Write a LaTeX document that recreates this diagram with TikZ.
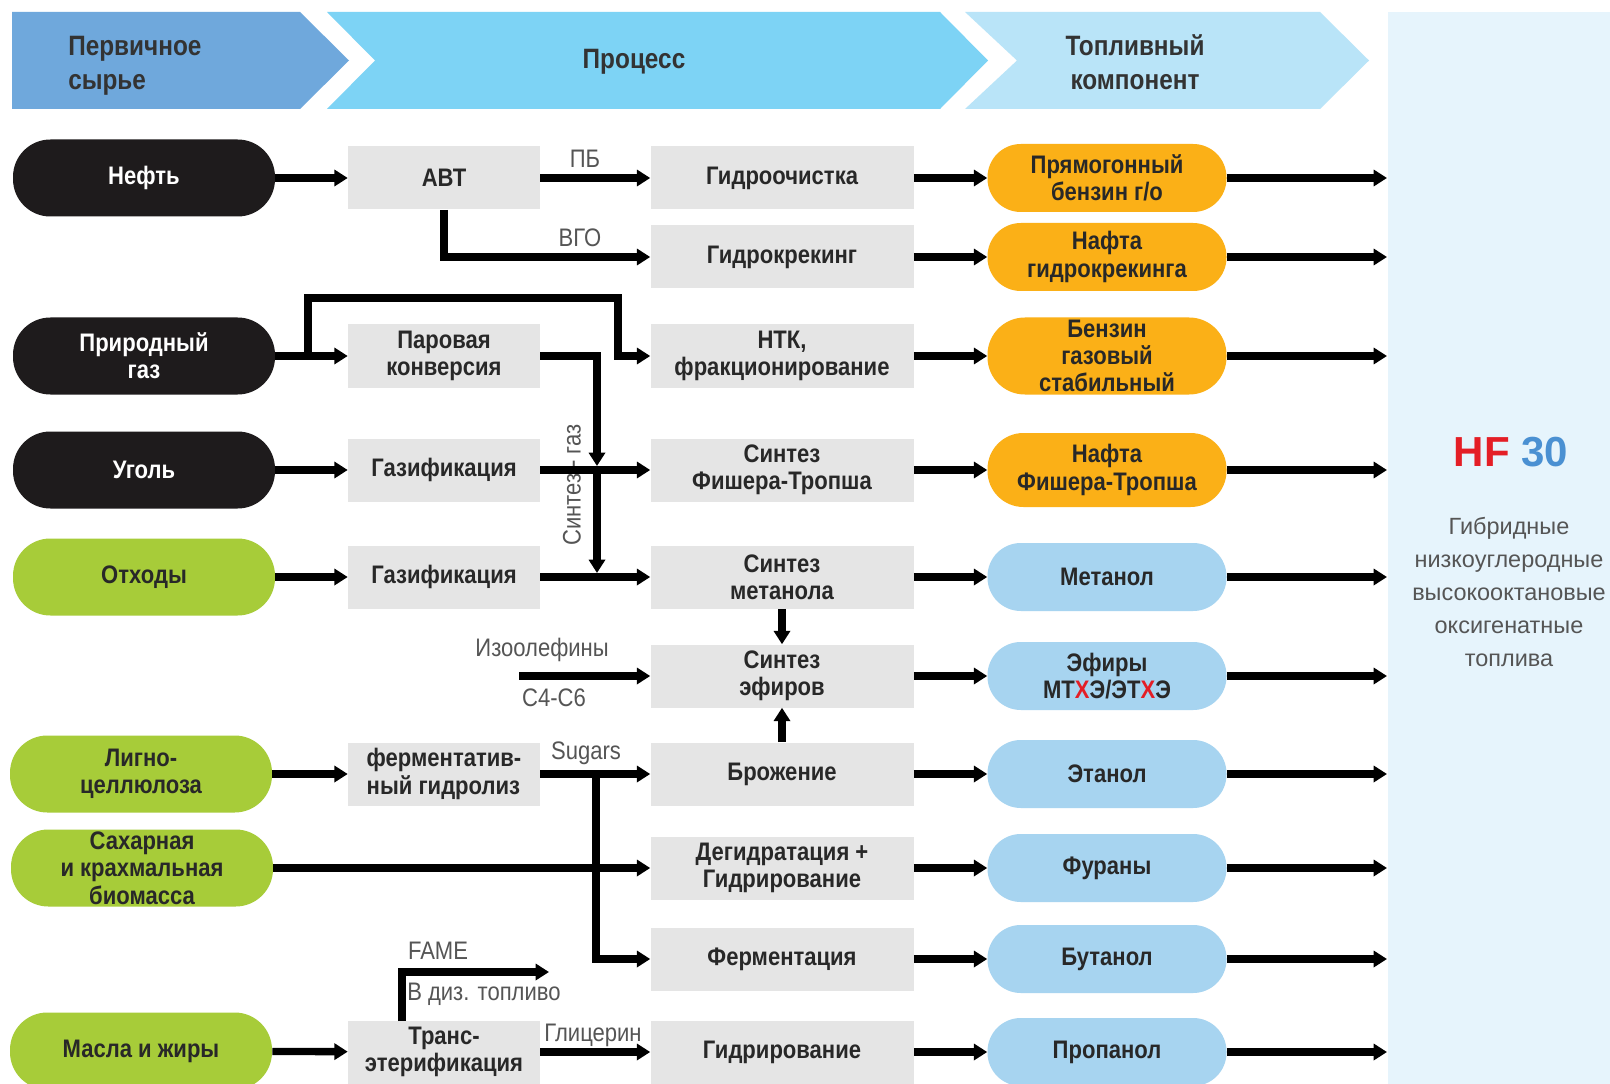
\documentclass[tikz,border=0pt]{standalone}
\usepackage{fontspec}
\setmainfont{Liberation Sans}[FakeStretch=0.87]
\newfontfamily\plainfont{Liberation Sans}
\usetikzlibrary{arrows.meta}
\definecolor{bandA}{RGB}{111,168,220}
\definecolor{bandB}{RGB}{125,211,245}
\definecolor{bandC}{RGB}{185,228,248}
\definecolor{panelblue}{RGB}{230,244,252}
\definecolor{boxgray}{RGB}{229,229,229}
\definecolor{pillblack}{RGB}{30,27,28}
\definecolor{pillgreen}{RGB}{167,204,57}
\definecolor{pillorange}{RGB}{251,176,23}
\definecolor{pillblue}{RGB}{167,212,240}
\definecolor{txt}{RGB}{40,40,40}
\definecolor{headtxt}{RGB}{51,51,51}
\definecolor{lbltxt}{RGB}{85,85,85}
\definecolor{hfred}{RGB}{228,30,38}
\definecolor{hfblue}{RGB}{74,144,210}
\newcommand\nodefont{\fontsize{19}{20.5}\selectfont\bfseries}
\newcommand\labelfont{\fontsize{19}{21}\selectfont}
\newcommand\headfont{\fontsize{21}{25.5}\selectfont\bfseries}
\begin{document}
\begin{tikzpicture}[x=0.75pt,y=-0.75pt,
  pill/.style={rounded corners=28pt, minimum width=196.5pt, minimum height=57.75pt, inner sep=0pt, align=center, font=\nodefont},
  feedblack/.style={pill, fill=pillblack, text=white},
  feedgreen/.style={pill, fill=pillgreen, text=txt},
  procA/.style={fill=boxgray, minimum width=144pt, minimum height=47.25pt, inner sep=0pt, align=center, font=\nodefont, text=txt},
  procB/.style={procA, minimum width=197.25pt},
  outpill/.style={rounded corners=25pt, minimum width=179.25pt, minimum height=51pt, inner sep=0pt, align=center, font=\nodefont, text=txt},
  outorange/.style={outpill, fill=pillorange},
  outblue/.style={outpill, fill=pillblue},
  arr/.style={draw=black, line width=5.5pt, -{Triangle[width=12pt,length=10pt]}},
  lbl/.style={font=\labelfont, text=lbltxt, inner sep=0pt},
  head/.style={font=\headfont, text=headtxt, inner sep=0pt}
]
\useasboundingbox (0,0) rectangle (1610,1084);
\clip (0,0) rectangle (1610,1084);
\fill[white] (0,0) rectangle (1610,1084);

% header bands and right panel
\fill[bandA] (12,12) -- (300,12) -- (349,60.5) -- (300,109) -- (12,109) -- cycle;
\fill[bandB] (327,12) -- (940,12) -- (988,60.5) -- (940,109) -- (327,109) -- (375,60.5) -- cycle;
\fill[bandC] (965,12) -- (1320,12) -- (1369,60.5) -- (1320,109) -- (965,109) -- (1017,60.5) -- cycle;
\fill[panelblue] (1388,12) rectangle (1610,1084);
\node[head, anchor=west, align=left] (h1) at (68,66) {Первичное\\сырье};
\node[head] (h2) at (634,62) {Процесс};
\node[head, align=center] (h3) at (1135,62) {Топливный\\компонент};

% right panel text
\node[inner sep=0pt, font=\plainfont\bfseries\fontsize{31.5}{36}\selectfont] (hf) at (1511,452) {\textcolor{hfred}{HF} \textcolor{hfblue}{30}};
\node[inner sep=0pt, align=center, text=lbltxt, font=\plainfont\fontsize{17.6}{24.6}\selectfont] (desc) at (1509,592) {Гибридные\\низкоуглеродные\\высокооктановые\\оксигенатные\\топлива};

% feedstock
\node[feedblack] (n1) at (144,178) {Нефть};
\node[feedblack] (n2) at (144,356) {Природный\\газ};
\node[feedblack] (n3) at (144,470) {Уголь};
\node[feedgreen] (n4) at (144,577) {Отходы};
\node[feedgreen] (n5) at (141,774) {Лигно-\\целлюлоза};
\node[feedgreen] (n6) at (142,868) {Сахарная\\и крахмальная\\биомасса};
\node[feedgreen] (n7) at (141,1051) {Масла и жиры};

% process column 1
\node[procA] (b1) at (444,178) {АВТ};
\node[procA] (b2) at (444,356) {Паровая\\конверсия};
\node[procA] (b3) at (444,470) {Газификация};
\node[procA] (b4) at (444,577) {Газификация};
\node[procA, align=left] (b5) at (444,774) {ферментатив-\\ный гидролиз};
\node[procA] (b6) at (444,1052) {Транс-\\этерификация};

% process column 2
\node[procB] (c1) at (782,178) {Гидроочистка};
\node[procB] (c2) at (782,257) {Гидрокрекинг};
\node[procB] (c3) at (782,356) {НТК,\\фракционирование};
\node[procB] (c4) at (782,470) {Синтез\\Фишера-Тропша};
\node[procB] (c5) at (782,577) {Синтез\\метанола};
\node[procB] (c6) at (782,676) {Синтез\\эфиров};
\node[procB] (c7) at (782,774) {Брожение};
\node[procB] (c8) at (782,868) {Дегидратация +\\Гидрирование};
\node[procB] (c9) at (782,959) {Ферментация};
\node[procB] (c10) at (782,1052) {Гидрирование};

% fuel components
\node[outorange] (o1) at (1107,178) {Прямогонный\\бензин г/о};
\node[outorange] (o2) at (1107,257) {Нафта\\гидрокрекинга};
\node[outorange, minimum height=57.75pt, rounded corners=28pt] (o3) at (1107,356) {Бензин\\газовый\\стабильный};
\node[outorange, minimum height=55.5pt, rounded corners=27pt] (o4) at (1107,470) {Нафта\\Фишера-Тропша};
\node[outblue] (o5) at (1107,577) {Метанол};
\node[outblue] (o6) at (1107,676) {Эфиры\\МТ\textcolor{hfred}{Х}Э/ЭТ\textcolor{hfred}{Х}Э};
\node[outblue] (o7) at (1107,774) {Этанол};
\node[outblue] (o8) at (1107,868) {Фураны};
\node[outblue] (o9) at (1107,959) {Бутанол};
\node[outblue] (o10) at (1107,1052) {Пропанол};

% labels
\node[lbl] (lpb) at (585,159) {ПБ};
\node[lbl] (lvgo) at (580,238) {ВГО};
\node[lbl, rotate=90] (lsyn) at (572,485) {Синтез - газ};
\node[lbl, anchor=east] (liso) at (609,650) {Изоолефины};
\node[lbl] (lc4) at (554,698) {С4-С6};
\node[lbl] (lsug) at (586,753) {Sugars};
\node[lbl] (lfame) at (438,951) {FAME};
\node[lbl, anchor=west] (ldiz) at (407,994) {В диз. топливо};
\node[lbl] (lgly) at (593,1035) {Глицерин};

% junction coordinates
\coordinate (g1) at (308,356);
\coordinate (g2) at (618,298);
\coordinate (s1) at (597,466);
\coordinate (s2) at (597,573);
\coordinate (iso) at (519,676);
\coordinate (sg) at (596,774);
\coordinate (f1) at (402,1021);
\coordinate (f2) at (549,972);
\foreach \i/\y in {1/178,2/257,3/356,4/470,5/577,6/676,7/774,8/868,9/959,10/1052}
  \coordinate (e\i) at (1387,\y);

% connectors
\draw[arr] (n1) -- (b1);
\draw[arr] (b1) -- (c1);
\draw[arr] (b1.south) |- (c2.west);
\draw[arr] (n2) -- (b2);
\draw[arr] (g1) |- (g2) |- (c3.west);
\draw[arr] (b2.east) -| (s1);
\draw[arr] (s1) -- (s2);
\draw[arr] (n3) -- (b3);
\draw[arr] (b3) -- (c4);
\draw[arr] (n4) -- (b4);
\draw[arr] (b4) -- (c5);
\draw[arr] (c5) -- (c6);
\draw[arr] (c7) -- (c6);
\draw[arr] (iso) -- (c6.west);
\draw[arr] (n5) -- (b5);
\draw[arr] (b5) -- (c7);
\draw[arr] (sg) |- (c9.west);
\draw[arr] (n6) -- (c8);
\draw[arr] (n7) -- (b6);
\draw[arr] (b6) -- (c10);
\draw[arr] (f1) |- (f2);
\foreach \i in {1,...,10} {
  \draw[arr] (c\i) -- (o\i);
  \draw[arr] (o\i) -- (e\i);
}
\end{tikzpicture}
\end{document}
